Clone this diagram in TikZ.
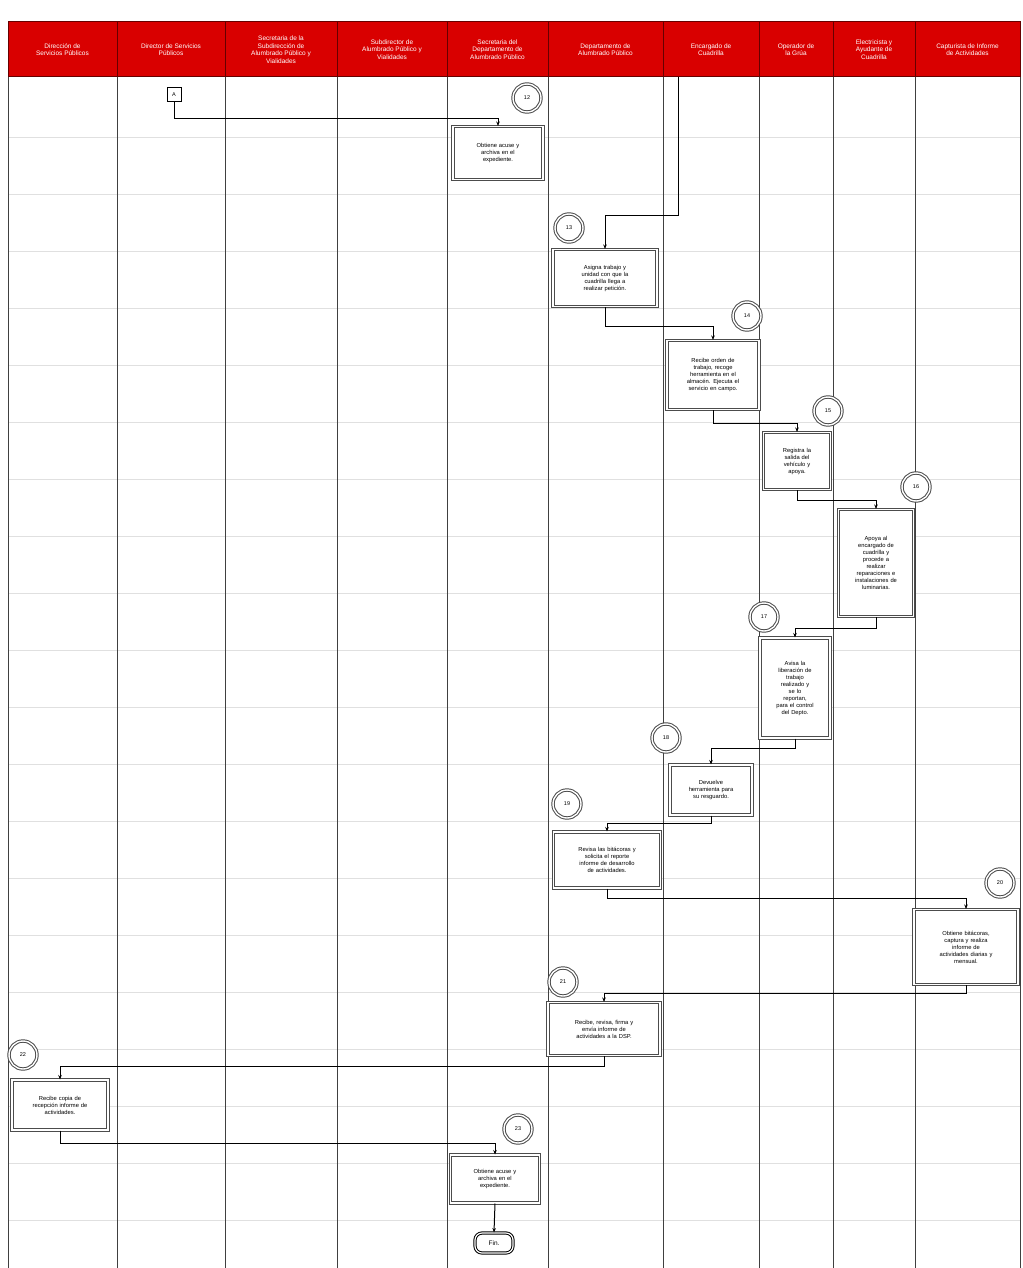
\documentclass[tikz,border=0pt]{standalone}
\usepackage{fontspec}
\setmainfont{Liberation Sans}
\usetikzlibrary{arrows.meta,calc}
\begin{document}
\begin{tikzpicture}[x=1pt,y=-1pt,
  hdr/.style={fill=red!85!black,draw=red!40!black,line width=1pt,text=white,font=\fontsize{6.5}{7.6}\selectfont,align=center,inner sep=1pt},
  lane/.style={draw=black!75,line width=1pt},
  grid/.style={draw=black!12,line width=0.6pt},
  actbox/.style={draw=black!70,double=white,double distance=1.6pt,line width=1pt,fill=white,font=\fontsize{5.8}{7}\selectfont,align=center,inner sep=1pt},
  num/.style={circle,draw=black!70,double=white,double distance=1.4pt,line width=1pt,fill=white,minimum size=28pt,inner sep=0pt,font=\fontsize{5.5}{6}\selectfont},
  flow/.style={draw=black,line width=1pt,-{Stealth[length=4.5pt,width=3.5pt]}},
]
\useasboundingbox (0,0) rectangle (1022,1268);
\fill[white] (0,0) rectangle (1022,1268);
% grid
\foreach \yy in {137,194,251,308,365,422,479,536,593,650,707,764,821,878,935,992,1049,1106,1163,1220}
  \draw[grid] (8,\yy) -- (1020,\yy);
% header
\node[hdr,minimum width=109pt,minimum height=55pt] (h1) at (62.5,49.5) {Dirección de\\Servicios Públicos};
\node[hdr,minimum width=108pt,minimum height=55pt] (h2) at (171,49.5) {Director de Servicios\\Públicos};
\node[hdr,minimum width=112pt,minimum height=55pt] (h3) at (281,49.5) {Secretaria de la\\Subdirección de\\Alumbrado Público y\\Vialidades};
\node[hdr,minimum width=110pt,minimum height=55pt] (h4) at (392,49.5) {Subdirector de\\Alumbrado Público y\\Vialidades};
\node[hdr,minimum width=101pt,minimum height=55pt] (h5) at (497.5,49.5) {Secretaria del\\Departamento de\\Alumbrado Público};
\node[hdr,minimum width=115pt,minimum height=55pt] (h6) at (605.5,49.5) {Departamento de\\Alumbrado Público};
\node[hdr,minimum width=96pt,minimum height=55pt] (h7) at (711,49.5) {Encargado de\\Cuadrilla};
\node[hdr,minimum width=74pt,minimum height=55pt] (h8) at (796,49.5) {Operador de\\la Grúa};
\node[hdr,minimum width=82pt,minimum height=55pt] (h9) at (874,49.5) {Electricista y\\Ayudante de\\Cuadrilla};
\node[hdr,minimum width=105pt,minimum height=55pt] (h10) at (967.5,49.5) {Capturista de Informe\\de Actividades};
% lanes
\foreach \xx in {8,117,225,337,447,548,663,759,833,915,1020}
  \draw[lane] (\xx,77) -- (\xx,1268);
% connector A
\node[draw=black,line width=1pt,fill=white,minimum size=14pt,inner sep=0pt,font=\fontsize{5.5}{6}\selectfont] (A) at (174,95) {A};
% activities
\node[actbox,text width=82pt,minimum width=90pt,minimum height=53pt] (b12) at (498,153) {Obtiene acuse y\\archiva en el\\expediente.};
\node[num] (n12) at (527,98) {12};
\node[actbox,text width=96pt,minimum width=104pt,minimum height=57pt] (b13) at (605,278) {Asigna trabajo y\\unidad con que la\\cuadrilla llega a\\realizar petición.};
\node[num] (n13) at (569,228) {13};
\node[actbox,text width=86pt,minimum width=92pt,minimum height=69pt] (b14) at (713,375) {Recibe orden de\\trabajo, recoge\\herramienta en el\\almacén. Ejecuta el\\servicio en campo.};
\node[num] (n14) at (747,316) {14};
\node[actbox,text width=62pt,minimum width=67pt,minimum height=57pt] (b15) at (797,461) {Registra la\\salida del\\vehículo y\\apoya.};
\node[num] (n15) at (828,411) {15};
\node[actbox,text width=70pt,minimum width=75pt,minimum height=107pt] (b16) at (876,563) {Apoya al\\encargado de\\cuadrilla y\\procede a\\realizar\\reparaciones e\\instalaciones de\\luminarias.};
\node[num] (n16) at (916,487) {16};
\node[actbox,text width=64pt,minimum width=70pt,minimum height=100pt] (b17) at (795,688) {Avisa la\\liberación de\\trabajo\\realizado y\\se lo\\reportan,\\para el control\\del Depto.};
\node[num] (n17) at (764,617) {17};
\node[actbox,text width=76pt,minimum width=82pt,minimum height=50pt] (b18) at (711,790) {Devuelve\\herramienta para\\su resguardo.};
\node[num] (n18) at (666,738) {18};
\node[actbox,text width=100pt,minimum width=107pt,minimum height=56pt] (b19) at (607,860) {Revisa las bitácoras y\\solicita el reporte\\informe de desarrollo\\de actividades.};
\node[num] (n19) at (567,804) {19};
\node[actbox,text width=98pt,minimum width=104pt,minimum height=75pt] (b20) at (966,947) {Obtiene bitácoras,\\captura y realiza\\informe de\\actividades diarias y\\mensual.};
\node[num] (n20) at (1000,883) {20};
\node[actbox,text width=106pt,minimum width=112pt,minimum height=53pt] (b21) at (604,1029) {Recibe, revisa, firma y\\envía informe de\\actividades a la DSP.};
\node[num] (n21) at (563,982) {21};
\node[actbox,text width=90pt,minimum width=96pt,minimum height=50pt] (b22) at (60,1105) {Recibe copia de\\recepción informe de\\actividades.};
\node[num] (n22) at (23,1055) {22};
\node[actbox,text width=82pt,minimum width=89pt,minimum height=48pt] (b23) at (495,1179) {Obtiene acuse y\\archiva en el\\expediente.};
\node[num] (n23) at (518,1129) {23};
\node[draw=black,line width=1pt,double=white,double distance=1.2pt,fill=white,rounded corners=7pt,minimum width=38pt,minimum height=20pt,inner sep=0pt,font=\fontsize{6.5}{7}\selectfont] (fin) at (494,1243) {Fin.};
% connectors
\coordinate (in7) at (678,77);
\coordinate (t13) at (678,215);
\draw[flow] (A.south) -- ++(0,16) -| (b12.north);
\draw[flow] (in7) -- (t13) -| (b13.north);
\draw[flow] (b13.south) -- ++(0,19) -| (b14.north);
\draw[flow] (b14.south) -- ++(0,13) -| (b15.north);
\draw[flow] (b15.south) -- ++(0,10) -| (b16.north);
\draw[flow] (b16.south) -- ++(0,11) -| (b17.north);
\draw[flow] (b17.south) -- ++(0,10) -| (b18.north);
\draw[flow] (b18.south) -- ++(0,8) -| (b19.north);
\draw[flow] (b19.south) -- ++(0,10) -| (b20.north);
\draw[flow] (b20.south) -- ++(0,8) -| (b21.north);
\draw[flow] (b21.south) -- ++(0,10) -| (b22.north);
\draw[flow] (b22.south) -- ++(0,13) -| (b23.north);
\draw[flow] (b23.south) -- (fin.north);
\end{tikzpicture}
\end{document}
